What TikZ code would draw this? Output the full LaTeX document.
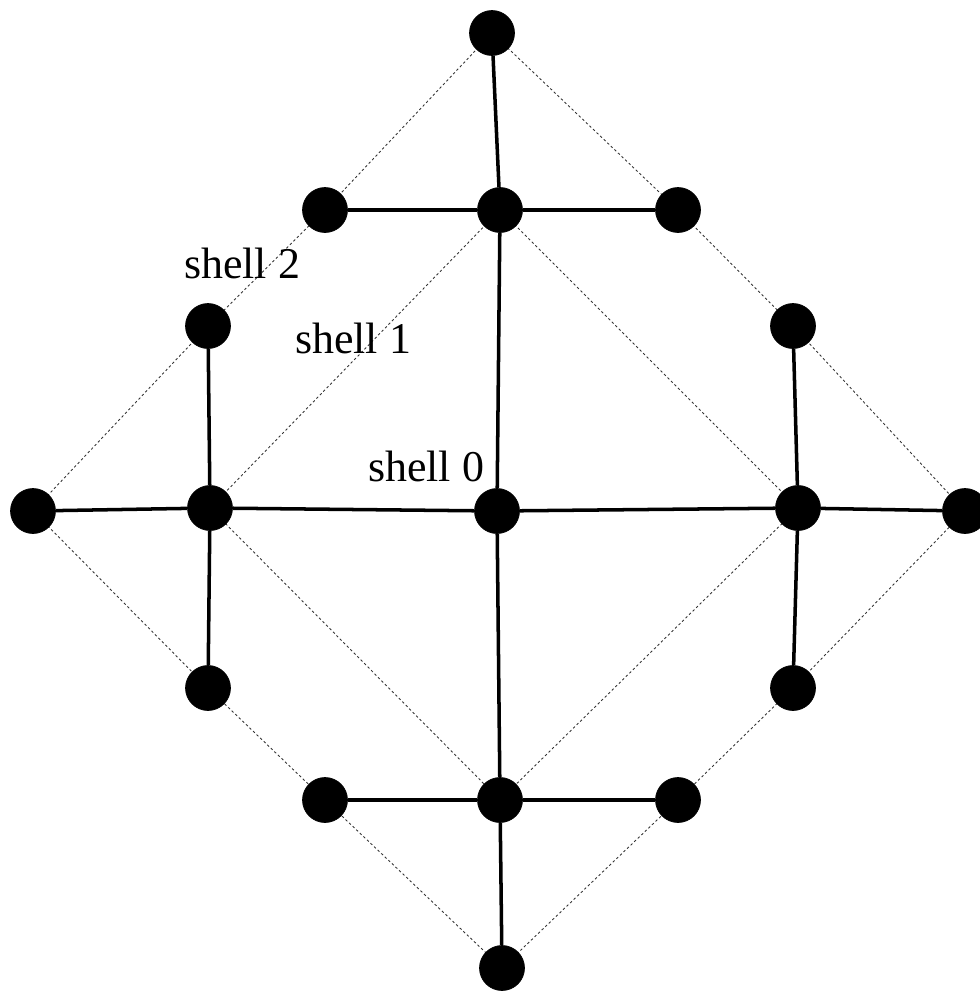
\documentclass[tikz,border=0pt]{standalone}
\usepackage{fontspec}
\setmainfont{Liberation Serif}
\usetikzlibrary{positioning,backgrounds}

\begin{document}
\begin{tikzpicture}[
    x=0.02cm, y=-0.02cm,
    site/.style={circle, fill=black, draw=black, minimum size=0.9cm, inner sep=0pt},
    bond/.style={line width=2pt},
    shelline/.style={line width=0.5pt, black!80, dash pattern=on 1.4pt off 1.4pt},
    lbl/.style={font=\fontsize{25}{30}\selectfont, inner sep=0pt},
]
\useasboundingbox (0,0) rectangle (980,994);

% Sites
\node[site] (c)   at (497,511) {};
\node[site] (n1)  at (500,210) {};
\node[site] (s1)  at (500,800) {};
\node[site] (w1)  at (210,508) {};
\node[site] (e1)  at (798,508) {};
\node[site] (n2)  at (492,33)  {};
\node[site] (s2)  at (502,968) {};
\node[site] (w2)  at (33,511)  {};
\node[site] (e2)  at (965,511) {};
\node[site] (nw)  at (325,210) {};
\node[site] (ne)  at (678,210) {};
\node[site] (sw)  at (325,800) {};
\node[site] (se)  at (678,800) {};
\node[site] (wn)  at (208,326) {};
\node[site] (ws)  at (208,688) {};
\node[site] (en)  at (793,326) {};
\node[site] (es)  at (793,688) {};

% Labels
\node[lbl] (l2) at (242,263) {shell 2};
\node[lbl] (l1) at (353,338) {shell 1};
\node[lbl] (l0) at (426,466) {shell 0};

% Shell outlines
\begin{scope}[on background layer]
\draw[shelline] (n1.center) -- (w1.center) -- (s1.center) -- (e1.center) -- cycle;
\draw[shelline] (n2.center) -- (nw.center) -- (wn.center) -- (w2.center) -- (ws.center)
    -- (sw.center) -- (s2.center) -- (se.center) -- (es.center) -- (e2.center)
    -- (en.center) -- (ne.center) -- cycle;
\end{scope}

% Bonds
\draw[bond] (n2) -- (n1);
\draw[bond] (nw) -- (n1);
\draw[bond] (n1) -- (ne);
\draw[bond] (n1) -- (c);
\draw[bond] (wn) -- (w1);
\draw[bond] (w2) -- (w1);
\draw[bond] (w1) -- (ws);
\draw[bond] (w1) -- (c);
\draw[bond] (c) -- (e1);
\draw[bond] (e1) -- (e2);
\draw[bond] (en) -- (e1);
\draw[bond] (e1) -- (es);
\draw[bond] (c) -- (s1);
\draw[bond] (sw) -- (s1);
\draw[bond] (s1) -- (se);
\draw[bond] (s1) -- (s2);

\end{tikzpicture}
\end{document}
